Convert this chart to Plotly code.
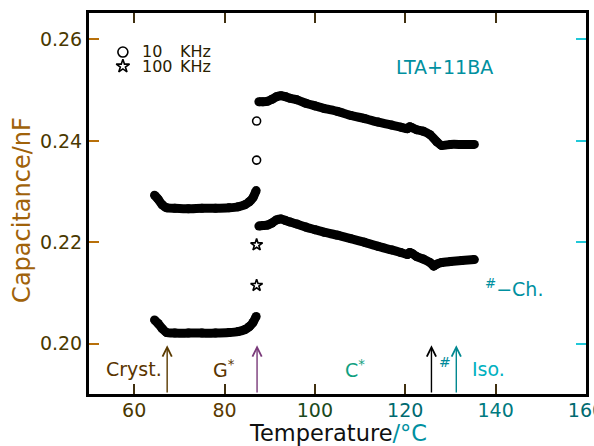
import plotly.graph_objects as go

FONT = "DejaVu Sans"

# ---- data ----
# 10 KHz: low-temperature branch (Cryst./G*)
t10_low = [64.5, 65.3, 66.2, 67.2, 69, 72, 75, 78, 81, 83, 84.5, 85.5, 86.3, 87.0]
c10_low = [0.2293, 0.2285, 0.2274, 0.2268, 0.2267, 0.2266, 0.2267, 0.2267, 0.2268,
           0.2270, 0.2274, 0.2280, 0.2288, 0.2302]
# 10 KHz: isolated points at the transition
t10_jump = [87.1, 87.1]
c10_jump = [0.2439, 0.2362]
# 10 KHz: high-temperature branch (C* / Iso.)
t10_high = [87.6, 88.5, 89.5, 90.5, 91.5, 92.5, 93.5, 94.5, 96, 98, 100, 102, 105, 108,
            111, 114, 117, 119, 120.5, 121, 121.5, 122.5, 124, 125.5, 127, 128, 130,
            132.5, 135.3]
c10_high = [0.2477, 0.2477, 0.2478, 0.2482, 0.2487, 0.2489, 0.2487, 0.2484, 0.2481,
            0.2474, 0.2469, 0.2464, 0.2458, 0.2450, 0.2444, 0.2437, 0.2431, 0.2427,
            0.2424, 0.2428, 0.2426, 0.2422, 0.2419, 0.2412, 0.2398, 0.2391, 0.2393,
            0.2393, 0.2393]

# 100 KHz
t100_low = [64.5, 65.3, 66.2, 67.2, 69, 72, 75, 78, 81, 83, 84.5, 85.5, 86.3, 87.0]
c100_low = [0.2047, 0.2040, 0.2030, 0.2022, 0.2021, 0.2021, 0.2021, 0.2021, 0.2022,
            0.2024, 0.2028, 0.2034, 0.2042, 0.2054]
t100_jump = [87.1, 87.1]
c100_jump = [0.2195, 0.2115]
t100_high = [87.6, 88.5, 89.5, 90.5, 91.5, 92.5, 93.5, 94.5, 96, 98, 100, 102, 105, 108,
             111, 114, 117, 119, 120.5, 121, 121.5, 122.5, 124, 125.5, 126.3, 127, 128,
             130, 132.5, 135.3]
c100_high = [0.2232, 0.2233, 0.2234, 0.2238, 0.2244, 0.2246, 0.2243, 0.2240, 0.2236,
             0.2230, 0.2225, 0.2220, 0.2214, 0.2207, 0.2200, 0.2192, 0.2185, 0.2180,
             0.2176, 0.2180, 0.2178, 0.2172, 0.2167, 0.2160, 0.2153, 0.2157, 0.2160,
             0.2162, 0.2164, 0.2166]

# phase transition temperatures (arrows) and labels
transition_t = [67.3, 87.2, 125.8, 131.3]
transition_colors = ["#5a3a00", "#7a3a7a", "#000000", "#008890"]
phase_labels = ["Cryst.", "G<sup>*</sup>", "C<sup>*</sup>", "#", "Iso."]
phase_label_t = [60.0, 79.8, 108.9, 128.7, 138.4]
phase_label_c = [0.1950, 0.1950, 0.1950, 0.1965, 0.1950]
phase_label_colors = ["#5a3500", "#5a3500", "#10a080", "#008a9a", "#00b0c0"]

x_ticks = [60, 80, 100, 120, 140, 160]
x_tick_colors = ["#4a3800", "#5a3a00", "#1a4a20", "#006a70", "#007a80", "#006a70"]
y_ticks = [0.20, 0.22, 0.24, 0.26]
y_tick_labels = ["0.20", "0.22", "0.24", "0.26"]

X_RANGE = [50, 160.01]
Y_RANGE = [0.1901, 0.2652]

fig = go.Figure()

for tx, cy in [(t10_low, c10_low), (t10_high, c10_high),
               (t100_low, c100_low), (t100_high, c100_high)]:
    fig.add_trace(go.Scatter(x=tx, y=cy, mode="lines+markers",
                             line=dict(color="black", width=9, shape="spline", smoothing=0.6),
                             marker=dict(color="black", size=9),
                             showlegend=False, hoverinfo="skip"))

fig.add_trace(go.Scatter(x=t10_jump, y=c10_jump, mode="markers",
                         marker=dict(symbol="circle-open", size=8, color="black",
                                     line=dict(width=1.6)),
                         showlegend=False))
fig.add_trace(go.Scatter(x=t100_jump, y=c100_jump, mode="markers",
                         marker=dict(symbol="star-open", size=9, color="black",
                                     line=dict(width=1.6)),
                         showlegend=False))

# legend symbols
fig.add_trace(go.Scatter(x=[57.5], y=[0.2575], mode="markers",
                         marker=dict(symbol="circle-open", size=10, color="black",
                                     line=dict(width=1.6)),
                         showlegend=False))
fig.add_trace(go.Scatter(x=[57.5], y=[0.2547], mode="markers",
                         marker=dict(symbol="star-open", size=10, color="black",
                                     line=dict(width=1.6)),
                         showlegend=False))

annotations = []
# legend text
for txt, xx, yy in [("10", 61.3, 0.2576), ("KHz", 69.8, 0.2576),
                    ("100", 61.3, 0.2547), ("KHz", 69.8, 0.2547)]:
    annotations.append(dict(x=xx, y=yy, xref="x", yref="y", text=txt, showarrow=False,
                            xanchor="left", yanchor="middle",
                            font=dict(family=FONT, size=16, color="#2a2000")))

# arrows
for t, col in zip(transition_t, transition_colors):
    annotations.append(dict(x=t, y=0.1997, ax=t, ay=Y_RANGE[0], xref="x", yref="y",
                            axref="x", ayref="y", text="", showarrow=True,
                            arrowhead=5, arrowsize=1.3, arrowwidth=1.4,
                            arrowcolor=col, standoff=0))

# phase labels
for txt, xx, yy, col in zip(phase_labels, phase_label_t, phase_label_c, phase_label_colors):
    annotations.append(dict(x=xx, y=yy, xref="x", yref="y", text=txt, showarrow=False,
                            xanchor="center", yanchor="middle",
                            font=dict(family=FONT, size=14 if txt == "#" else 19, color=col)))

annotations.append(dict(x=144.1, y=0.2110, xref="x", yref="y",
                        text="<sup>#</sup>\u2212Ch.", showarrow=False,
                        font=dict(family=FONT, size=19, color="#0090a0")))
annotations.append(dict(x=128.7, y=0.2546, xref="x", yref="y", text="LTA+11BA",
                        showarrow=False, font=dict(family=FONT, size=19, color="#0090a0")))

# axis titles
annotations.append(dict(x=-0.135, y=0.483, xref="paper", yref="paper",
                        text="Capacitance/nF", textangle=-90, showarrow=False,
                        xanchor="center", yanchor="middle",
                        font=dict(family=FONT, size=24, color="#a0620a")))
annotations.append(dict(x=0.502, y=-0.102, xref="paper", yref="paper",
                        text="Temperature<span style='color:#0090a0'>/°C</span>",
                        showarrow=False, xanchor="center", yanchor="middle",
                        font=dict(family=FONT, size=22.5, color="#101010")))

fig.update_layout(
    width=594, height=446,
    margin=dict(l=89, r=8, t=13, b=52, autoexpand=False),
    paper_bgcolor="white", plot_bgcolor="white",
    showlegend=False,
    annotations=annotations,
    xaxis=dict(range=X_RANGE, tickvals=x_ticks,
               ticktext=[f"<span style='color:{c}'>{v}</span>" for v, c in zip(x_ticks, x_tick_colors)],
               ticks="inside", ticklen=10, tickwidth=2, tickcolor="#403010",
               showline=True, linewidth=3, linecolor="black", mirror="ticks",
               showgrid=False, zeroline=False, ticklabelstandoff=-3, automargin=False,
               ticklabeloverflow="allow",
               tickfont=dict(family=FONT, size=19)),
    yaxis=dict(range=Y_RANGE, tickvals=y_ticks, ticktext=y_tick_labels,
               ticks="inside", ticklen=10, tickwidth=2, tickcolor="#b8700a",
               showline=True, linewidth=3, linecolor="black", mirror=True,
               showgrid=False, zeroline=False, ticklabelstandoff=0, automargin=False,
               tickfont=dict(family=FONT, size=19, color="#4a3800")),
    yaxis2=dict(range=Y_RANGE, overlaying="y", side="right", tickvals=y_ticks,
                ticks="inside", ticklen=10, tickwidth=2, tickcolor="#20c8d8",
                showticklabels=False, showgrid=False, zeroline=False, showline=False,
                automargin=False),
)
# dummy trace to activate the right-hand axis
fig.add_trace(go.Scatter(x=[None], y=[None], yaxis="y2", showlegend=False))

fig.write_html("out.html", config={"displayModeBar": False},
               post_script="document.body.style.margin='0';")
